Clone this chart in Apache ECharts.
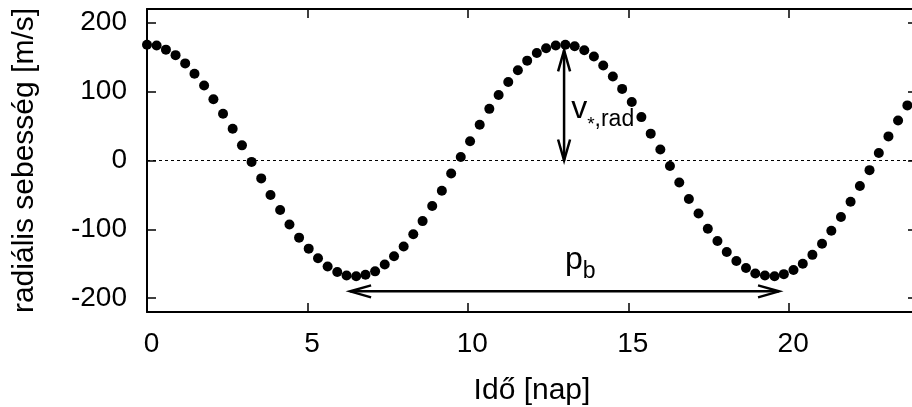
<!DOCTYPE html>
<html>
<head>
<meta charset="utf-8">
<script src="https://cdn.jsdelivr.net/npm/echarts@6/dist/echarts.min.js"></script>
<style>
  html, body { margin: 0; padding: 0; background: #fff; }
  #chart { width: 912px; height: 407px; }
</style>
</head>
<body>
<div id="chart"></div>
<script>
// mért pontok: idő [nap] és radiális sebesség [m/s]
const time = [
  0, 0.30, 0.59, 0.89, 1.19, 1.48, 1.78, 2.07, 2.37, 2.67,
  2.96, 3.26, 3.56, 3.85, 4.15, 4.44, 4.74, 5.04, 5.33, 5.63,
  5.93, 6.22, 6.52, 6.81, 7.11, 7.41, 7.70, 8.00, 8.30, 8.59,
  8.89, 9.19, 9.48, 9.78, 10.07, 10.37, 10.67, 10.96, 11.26, 11.56,
  11.85, 12.15, 12.44, 12.74, 13.04, 13.33, 13.63, 13.93, 14.22, 14.52,
  14.81, 15.11, 15.41, 15.70, 16.00, 16.30, 16.59, 16.89, 17.19, 17.48,
  17.78, 18.07, 18.37, 18.67, 18.96, 19.26, 19.56, 19.85, 20.15, 20.44,
  20.74, 21.04, 21.33, 21.63, 21.93, 22.22, 22.52, 22.81, 23.11, 23.41,
  23.70
];
const velocity = [
  168, 167, 161, 153, 141, 126, 109, 89, 68, 46,
  22, -2, -26, -50, -72, -93, -112, -128, -142, -154,
  -162, -167, -168, -166, -161, -151, -139, -125, -107, -88,
  -66, -44, -19, 5, 28, 52, 75, 95, 114, 131,
  145, 156, 163, 167, 168, 166, 160, 151, 138, 122,
  104, 85, 63, 39, 16, -8, -32, -56, -77, -99,
  -117, -133, -146, -156, -164, -167, -168, -165, -159, -150,
  -137, -121, -102, -82, -60, -37, -14, 11, 35, 58,
  80
];

const yTickValues = [-200, -100, 0, 100, 200];
const zeroLine = [[0, 0], [24, 0]];

// nyilak: [x1, y1, x2, y2]
const arrows = [
  [6.33, -190, 19.7, -190],   // p_b
  [13, 0, 13, 160]            // v_*,rad
];
// feliratok helye (a fő betű bal széle, közepe)
const labelAt = [[13.22, 75], [13.03, -145]];
const labelMain = ['v', 'p'];
const labelStar = ['*', ''];
const labelSub = [',rad', 'b'];

const FONT = '"Liberation Sans", Arial, sans-serif';
const black = '#000';

const chart = echarts.init(document.getElementById('chart'), null, { renderer: 'canvas' });

function textWidth(s, size) {
  if (!s) return 0;
  return echarts.format.getTextRect
    ? echarts.format.getTextRect(s, size + 'px ' + FONT).width
    : s.length * size * 0.55;
}

function arrowItem(params, api) {
  const a = api.coord([api.value(0), api.value(1)]);
  const b = api.coord([api.value(2), api.value(3)]);
  const dx = b[0] - a[0], dy = b[1] - a[1];
  const len = Math.sqrt(dx * dx + dy * dy);
  const ux = dx / len, uy = dy / len;
  const L = 21, W = 6;
  const st = { stroke: black, fill: 'none', lineWidth: 2.5 };
  function head(tip, d) {
    return {
      type: 'polyline',
      shape: { points: [
        [tip[0] - d[0] * L - d[1] * W, tip[1] - d[1] * L + d[0] * W],
        [tip[0], tip[1]],
        [tip[0] - d[0] * L + d[1] * W, tip[1] - d[1] * L - d[0] * W]
      ] },
      style: st
    };
  }
  return {
    type: 'group',
    children: [
      { type: 'line', shape: { x1: a[0], y1: a[1], x2: b[0], y2: b[1] }, style: st },
      head(b, [ux, uy]),
      head(a, [-ux, -uy])
    ]
  };
}

function labelItem(params, api) {
  const p = api.coord([api.value(0), api.value(1)]);
  const i = params.dataIndex;
  const mainSize = 32, subSize = 23, starSize = 19;
  let x = p[0];
  const kids = [];
  kids.push({ type: 'text', x: x, y: p[1],
    style: { text: labelMain[i], fill: black, fontSize: mainSize, fontFamily: FONT,
             align: 'left', verticalAlign: 'middle' } });
  x += textWidth(labelMain[i], mainSize);
  if (labelStar[i]) {
    kids.push({ type: 'text', x: x, y: p[1] + 16,
      style: { text: labelStar[i], fill: black, fontSize: starSize, fontFamily: FONT,
               align: 'left', verticalAlign: 'middle' } });
    x += textWidth(labelStar[i], starSize);
  }
  kids.push({ type: 'text', x: x, y: p[1] + 11,
    style: { text: labelSub[i], fill: black, fontSize: subSize, fontFamily: FONT,
             align: 'left', verticalAlign: 'middle' } });
  return { type: 'group', children: kids };
}

const tickStyle = { show: true, inside: true, length: 9, lineStyle: { color: black, width: 1.5 } };
const lineStyle = { show: true, onZero: false, lineStyle: { color: black, width: 2 } };

const option = {
  animation: false,
  backgroundColor: '#fff',
  textStyle: { fontFamily: FONT, color: black },
  grid: { left: 147, top: 9, bottom: 95, right: -5, containLabel: false, outerBoundsMode: 'none' },
  xAxis: [
    {
      type: 'value', min: 0, max: 24, interval: 5, position: 'bottom',
      axisLine: lineStyle, axisTick: tickStyle, splitLine: { show: false },
      axisLabel: { color: black, fontSize: 28, fontFamily: FONT, margin: 18,
                   padding: [0, 0, 0, 9], showMaxLabel: false },
      name: 'Idő [nap]', nameLocation: 'middle', nameGap: 64,
      nameTextStyle: { color: black, fontSize: 30, fontFamily: FONT }
    },
    {
      type: 'value', min: 0, max: 24, interval: 5, position: 'top',
      axisLine: lineStyle, axisTick: tickStyle, splitLine: { show: false },
      axisLabel: { show: false }
    }
  ],
  yAxis: [
    {
      type: 'value', min: -220, max: 220, position: 'left',
      axisLine: lineStyle,
      axisTick: Object.assign({ customValues: yTickValues }, tickStyle),
      splitLine: { show: false },
      axisLabel: { customValues: yTickValues, color: black, fontSize: 28, fontFamily: FONT, margin: 20 },
      name: 'radiális sebesség [m/s]', nameLocation: 'middle', nameGap: 107,
      nameTextStyle: { color: black, fontSize: 30, fontFamily: FONT }
    },
    {
      type: 'value', min: -220, max: 220, position: 'right',
      axisLine: lineStyle,
      axisTick: Object.assign({ customValues: yTickValues }, tickStyle),
      splitLine: { show: false },
      axisLabel: { show: false }
    }
  ],
  series: [
    {
      name: 'zero', type: 'line', data: zeroLine, symbol: 'none', silent: true, z: 1,
      lineStyle: { color: black, width: 1, type: [3, 3] }
    },
    {
      name: 'arrows', type: 'custom', data: arrows, renderItem: arrowItem, z: 2,
      encode: { x: [0, 2], y: [1, 3] }
    },
    {
      name: 'labels', type: 'custom', data: labelAt, renderItem: labelItem, z: 3,
      encode: { x: 0, y: 1 }
    },
    {
      name: 'radiális sebesség', type: 'scatter', symbol: 'circle', symbolSize: 10, z: 4,
      itemStyle: { color: black, opacity: 1 },
      data: time.map((t, i) => [t, velocity[i]])
    }
  ]
};

chart.setOption(option);
</script>
</body>
</html>
